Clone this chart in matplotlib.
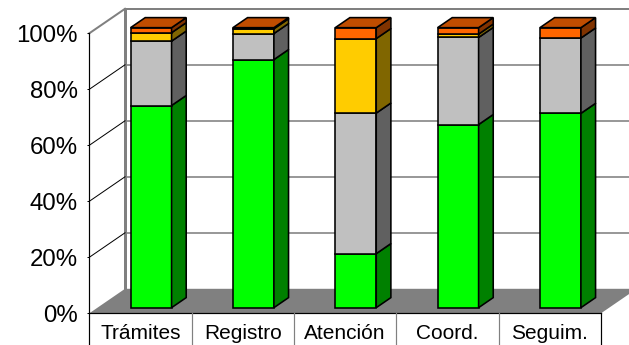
import matplotlib
matplotlib.use("Agg")
import matplotlib.pyplot as plt
from matplotlib.patches import Polygon
from matplotlib.ticker import FuncFormatter

# ---- data (percent of each stage) ----
categories = ["Trámites", "Registro", "Atención", "Coord.", "Seguim."]
verde = [72.2, 88.6, 19.3, 65.4, 69.4]
gris = [23.0, 9.3, 50.2, 31.1, 26.9]
amarillo = [3.0, 1.7, 26.6, 1.2, 0.0]
naranja = [1.8, 0.4, 3.9, 2.3, 3.7]
y_ticks = [0, 20, 40, 60, 80, 100]

series = [verde, gris, amarillo, naranja]
# front, side, top shades for each series
colors = [
    ("#00FF00", "#008000", "#00C000"),
    ("#C0C0C0", "#606060", "#909090"),
    ("#FFCC00", "#806600", "#C09900"),
    ("#FF6600", "#803300", "#C04D00"),
]

# ---- layout (pixels of a 629x345 canvas) ----
W, H, DPI = 629, 345, 100
X_LEFT, X_RIGHT = 89.3, 601.0
Y_ZERO, Y_FULL = 313.3, 33.3
PX_CAT = (X_RIGHT - X_LEFT) / len(categories)
PX_PCT = (Y_ZERO - Y_FULL) / 100.0

def px(v):
    return v * 0.72  # pixels -> points at 100 dpi

DX = 35.7 / PX_CAT        # floor depth, category units
DY = 24.5 / PX_PCT        # floor depth, percent units
F0, F1 = 0.23, 0.64       # bar front/back as fraction of depth
BAR_W = 41.0 / PX_CAT
BAR_SHIFT = 10.6 / PX_CAT
Y_BOTTOM = -(H - Y_ZERO) / PX_PCT

fig = plt.figure(figsize=(W / DPI, H / DPI), dpi=DPI)
ax = fig.add_axes([X_LEFT / W, (H - Y_ZERO) / H,
                   (X_RIGHT - X_LEFT) / W, (Y_ZERO - Y_FULL) / H])
ax.set_xlim(-0.5, len(categories) - 0.5)
ax.set_ylim(0, 100)
for s in ax.spines.values():
    s.set_visible(False)
ax.set_xticks([])
ax.set_yticks(y_ticks)
ax.yaxis.set_major_formatter(FuncFormatter(lambda v, p: f"{int(v)}%"))
ax.tick_params(axis="y", direction="out", length=px(2.5), width=px(1),
               pad=px(9), labelsize=17.3, colors="black")
for lab in ax.get_yticklabels():
    lab.set_fontfamily("Liberation Sans")

xl, xr = -0.5, len(categories) - 0.5
grid_c = "#808080"

# floor
ax.add_patch(Polygon([(xl, 0), (xr, 0), (xr + DX, DY), (xl + DX, DY)],
                     closed=True, facecolor="#808080", edgecolor="none",
                     zorder=1, clip_on=False))

# back wall gridlines and frame
for v in y_ticks[1:-1]:
    ax.plot([xl + DX, xr + DX + 1], [v + DY, v + DY], color=grid_c,
            lw=px(1.6), zorder=0.5, clip_on=False)
ax.plot([xl + DX, xr + DX + 1], [100 + DY, 100 + DY], color=grid_c,
        lw=px(2), zorder=0.6, clip_on=False)
ax.plot([xl + DX, xl + DX], [DY, 100 + DY], color=grid_c,
        lw=px(3), zorder=0.6, clip_on=False)

# side wall lines
for v in y_ticks[1:-1]:
    ax.plot([xl, xl + DX], [v, v + DY], color="black", lw=px(1),
            zorder=0.7, clip_on=False)
ax.plot([xl, xl + DX], [100, 100 + DY], color=grid_c, lw=px(2),
        zorder=0.7, clip_on=False)

# value axis line and category table
ax.plot([xl, xl], [100, Y_BOTTOM], color="black", lw=px(1.2),
        zorder=5, clip_on=False)
ax.plot([xr, xr], [0, Y_BOTTOM], color="black", lw=px(1.2),
        zorder=5, clip_on=False)
ax.plot([xl, xr], [0, 0], color="black", lw=px(1.2), zorder=5,
        clip_on=False)
for i in range(len(categories) - 1):
    ax.plot([i + 0.5, i + 0.5], [0, Y_BOTTOM], color="#808080",
            lw=px(1.2), zorder=5, clip_on=False)
for i, name in enumerate(categories):
    ax.text(i, -7.1, name, ha="center", va="center", fontsize=15,
            family="Liberation Sans", clip_on=False)

# stacked 3D bars
bdx = (F1 - F0) * DX
bdy = (F1 - F0) * DY
oy = F0 * DY
edge = dict(edgecolor="black", linewidth=px(1.6), joinstyle="miter",
            clip_on=False)
for i in range(len(categories)):
    left = i + BAR_SHIFT - BAR_W / 2
    right = left + BAR_W
    base = 0.0
    for k, vals in enumerate(series):
        v = vals[i]
        front, side, top = colors[k]
        if v <= 0:
            continue
        b, t = base + oy, base + v + oy
        ax.add_patch(Polygon([(left, b), (right, b), (right, t), (left, t)],
                             facecolor=front, zorder=3, **edge))
        ax.add_patch(Polygon([(right, b), (right + bdx, b + bdy),
                              (right + bdx, t + bdy), (right, t)],
                             facecolor=side, zorder=3, **edge))
        base += v
        last_top = (t, top)
    t, top = last_top
    ax.add_patch(Polygon([(left, t), (right, t), (right + bdx, t + bdy),
                          (left + bdx, t + bdy)],
                         facecolor=top, zorder=3, **edge))

fig.savefig("out.png", dpi=DPI)
